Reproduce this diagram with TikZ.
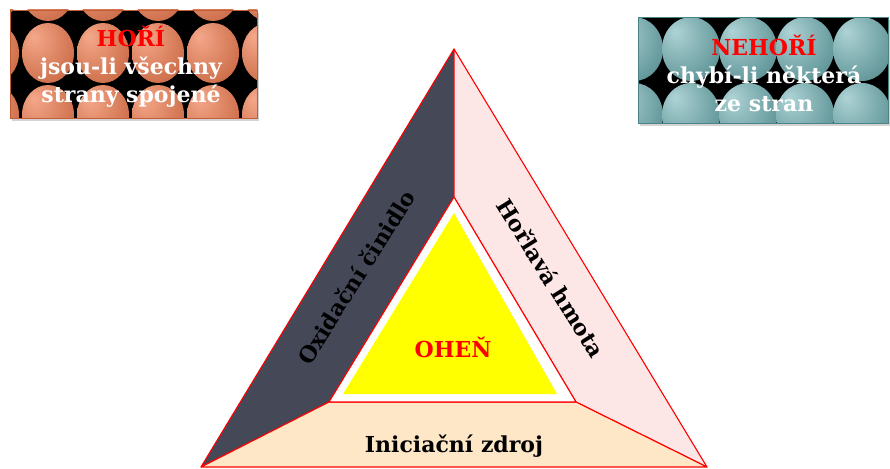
\documentclass[tikz,border=0pt]{standalone}
\usepackage{fontspec}
\setmainfont{DejaVu Serif}
\usetikzlibrary{calc, shadows}
\definecolor{OxSlate}{HTML}{444857}
\definecolor{FuelPink}{HTML}{FDE6E6}
\definecolor{IgnPeach}{HTML}{FDE7C7}
\definecolor{FireYel}{HTML}{FFFF00}
\definecolor{EdgeRed}{HTML}{FF0000}
\definecolor{OrHi}{HTML}{F4A88A}
\definecolor{OrLo}{HTML}{C25D37}
\definecolor{TeHi}{HTML}{AED3D5}
\definecolor{TeLo}{HTML}{4A8487}
\pgfdeclareradialshading{eggOr}{\pgfpoint{-14bp}{14bp}}{color(0bp)=(OrHi); color(45bp)=(OrLo); color(70bp)=(OrLo)}
\pgfdeclareradialshading{eggTe}{\pgfpoint{-14bp}{14bp}}{color(0bp)=(TeHi); color(45bp)=(TeLo); color(70bp)=(TeLo)}

\begin{document}
\begin{tikzpicture}[
    x=1pt, y=-1pt,
    font=\fontsize{22}{28}\selectfont\bfseries,
    side/.style={draw=EdgeRed, line width=1.1pt, line join=round},
    lbl/.style={text=black, inner sep=0pt},
    card/.style={rectangle, inner sep=0pt,
                 drop shadow={opacity=0.35, shadow xshift=2pt, shadow yshift=-3pt}},
    cardtxt/.style={align=center, text=white, inner sep=0pt},
    tiles/.style n args={7}{path picture={
        \fill[black] (path picture bounding box.north west) rectangle (path picture bounding box.south east);
        \foreach \i in {-1,...,4}
          \foreach \j in {-1,...,2}
            \shade[shading=#1] ($(path picture bounding box.north west)+({#2+(\i)*#4},{#3+(\j)*#5})$)
                ellipse [x radius=#6, y radius=#7];
      }},
  ]
    \useasboundingbox (0,0) rectangle (890,468);

    % =================== karty ===================
    \node[card, draw=OrLo, tiles={eggOr}{38}{43}{55}{62}{26}{30},
          minimum width=247pt, minimum height=108pt] (hori) at (133.5,64) {};
    \node[cardtxt] (horiTxt) at (131,67) {\textcolor{EdgeRed}{HOŘÍ}\\jsou-li všechny\\strany spojené};

    \node[card, draw=TeLo, tiles={eggTe}{53}{32}{57}{66}{29}{32},
          minimum width=250pt, minimum height=106pt] (nehori) at (763,70) {};
    \node[cardtxt] (nehoriTxt) at (764,73) {\textcolor{EdgeRed}{NEHOŘÍ}\\chybí-li některá\\ze stran};

    % =================== trojúhelník ===================
    \coordinate (apex) at (454,49);
    \coordinate (bl)   at (201,467);
    \coordinate (br)   at (707,467);
    \coordinate (ia)   at (454,197);
    \coordinate (il)   at (329,402);
    \coordinate (ir)   at (576,402);
    \coordinate (ya)   at (454,213);
    \coordinate (yl)   at (343,394);
    \coordinate (yr)   at (557,394);
    \filldraw[side, fill=OxSlate]  (apex) -- (ia) -- (il) -- (bl) -- cycle;
    \filldraw[side, fill=FuelPink] (apex) -- (br) -- (ir) -- (ia) -- cycle;
    \filldraw[side, fill=IgnPeach] (bl) -- (il) -- (ir) -- (br) -- cycle;
    \filldraw[side, fill=white]    (ia) -- (il) -- (ir) -- cycle;
    \fill[FireYel] (ya) -- (yl) -- (yr) -- cycle;

    % popisky
    \node[lbl, rotate=58]  (oxid) at (356,277) {Oxidační činidlo};
    \node[lbl, rotate=-58] (fuel) at (551,278) {Hořlavá hmota};
    \node[lbl, anchor=base] (ign)  at (454,452) {Iniciační zdroj};
    \node[lbl, anchor=base, text=EdgeRed] (fire) at (453,357) {OHEŇ};
\end{tikzpicture}
\end{document}
